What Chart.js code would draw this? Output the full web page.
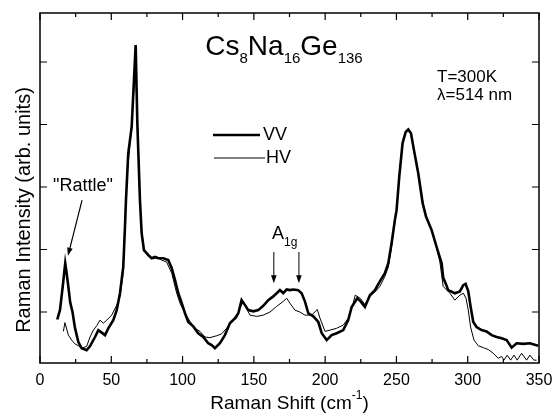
<!DOCTYPE html>
<html>
<head>
<meta charset="utf-8">
<script src="https://cdn.jsdelivr.net/npm/chart.js@4.4.1/dist/chart.umd.min.js"></script>
<style>
  html, body { margin: 0; padding: 0; background: #fff; }
</style>
</head>
<body>
<canvas id="ramanChart" width="553" height="415"></canvas>
<script>
// Raman shift (cm-1) / intensity (arb. units)
const vvPoints = [
  [12.1,-0.12],[14.0,0.03],[15.9,0.40],[17.7,0.78],[18.7,0.62],[19.9,0.40],[21.2,0.15],[22.8,0.0],
  [24.5,-0.25],[26.9,-0.48],[29.2,-0.58],[32.7,-0.61],[35.0,-0.55],[38.6,-0.40],[40.9,-0.29],[43.3,-0.33],
  [45.6,-0.37],[47.9,-0.26],[51.4,-0.13],[53.8,0.03],[56.1,0.30],[58.4,0.72],[59.5,1.30],[60.3,1.79],
  [61.9,2.54],[64.3,2.96],[67.1,4.27],[68.3,3.0],[70.1,1.79],[71.3,1.26],[72.9,0.99],[76.0,0.91],
  [78.3,0.86],[80.6,0.88],[83.0,0.86],[86.5,0.86],[90.0,0.83],[92.4,0.70],[94.7,0.51],[97.0,0.30],
  [99.4,0.14],[101.7,-0.02],[104.0,-0.16],[107.5,-0.23],[111.0,-0.34],[114.5,-0.40],[118.0,-0.50],
  [120.4,-0.53],[122.7,-0.58],[126.2,-0.50],[129.7,-0.37],[133.2,-0.18],[136.8,-0.10],[139.1,-0.02],
  [141.4,0.19],[143.8,0.11],[146.1,0.03],[149.6,0.01],[153.1,0.03],[156.6,0.10],[160.1,0.19],[163.6,0.25],
  [166.0,0.30],[168.3,0.35],[170.6,0.30],[173.0,0.36],[175.3,0.35],[177.7,0.36],[181.1,0.35],[183.5,0.30],
  [185.8,0.17],[188.2,-0.02],[191.7,-0.07],[195.2,-0.16],[197.6,-0.34],[201.1,-0.45],[204.6,-0.37],
  [208.1,-0.34],[212.7,-0.29],[216.2,-0.13],[218.6,0.08],[222.5,0.22],[224.9,0.17],[227.9,0.08],
  [231.4,0.27],[234.9,0.35],[238.4,0.49],[241.9,0.62],[244.3,0.78],[246.6,1.10],[248.9,1.47],[250.1,1.63],
  [252.0,2.17],[254.3,2.70],[256.5,2.88],[258.3,2.92],[260.2,2.86],[262.3,2.59],[265.3,2.22],[268.4,1.74],
  [270.7,1.53],[274.7,1.31],[278.2,1.04],[281.7,0.78],[282.8,0.55],[284.7,0.45],[286.3,0.35],[291.0,0.30],
  [294.5,0.33],[296.9,0.43],[298.5,0.45],[300.4,0.33],[302.0,0.09],[303.9,-0.16],[306.2,-0.24],
  [309.7,-0.29],[313.2,-0.31],[316.8,-0.37],[320.3,-0.40],[323.8,-0.42],[327.3,-0.45],[330.8,-0.57],
  [334.3,-0.50],[339.0,-0.51],[343.6,-0.50],[349.4,-0.54]
];

const hvPoints = [
  [16.4,-0.31],[17.5,-0.17],[19.9,-0.37],[22.2,-0.45],[24.5,-0.51],[26.9,-0.54],[29.2,-0.58],[32.7,-0.55],
  [35.1,-0.40],[37.4,-0.29],[39.8,-0.22],[42.1,-0.13],[44.4,-0.18],[46.8,-0.13],[50.3,-0.05],[53.8,0.11],
  [56.1,0.25],[58.0,0.56],[59.6,1.47],[61.5,2.30],[64.0,2.90],[66.9,3.95],[68.0,3.30],[70.0,1.85],
  [71.3,1.30],[73.0,1.0],[75.5,0.90],[77.1,0.88],[79.5,0.85],[81.8,0.88],[85.3,0.83],[88.8,0.80],
  [92.4,0.62],[95.9,0.30],[98.2,0.14],[101.7,-0.02],[105.2,-0.15],[108.7,-0.26],[112.2,-0.31],
  [115.7,-0.40],[119.2,-0.41],[123.9,-0.38],[127.4,-0.35],[130.9,-0.26],[134.4,-0.15],[137.9,-0.10],
  [140.0,0.05],[142.6,0.17],[145.0,0.05],[147.3,-0.05],[152.0,-0.07],[156.6,-0.05],[161.3,0.0],
  [166.0,0.09],[170.6,0.17],[173.0,0.22],[175.3,0.14],[178.8,0.03],[182.3,0.0],[185.8,-0.05],
  [190.5,-0.05],[194.5,0.04],[196.4,-0.10],[199.9,-0.31],[203.4,-0.29],[208.1,-0.26],[212.7,-0.21],
  [216.2,-0.10],[219.7,0.14],[221.1,0.27],[224.6,0.22],[227.9,0.12],[231.4,0.25],[234.9,0.32],
  [238.4,0.41],[241.9,0.57],[244.3,0.72],[246.6,1.05],[248.9,1.45],[250.1,1.63],[252.0,2.17],[254.3,2.70],
  [256.5,2.88],[258.3,2.92],[260.2,2.86],[262.3,2.59],[265.3,2.22],[268.4,1.78],[270.7,1.55],[274.7,1.30],
  [278.2,1.02],[280.5,0.80],[282.8,0.41],[287.5,0.30],[291.0,0.19],[294.5,0.27],[296.9,0.30],[298.8,0.22],
  [300.4,0.03],[302.0,-0.24],[304.4,-0.45],[307.4,-0.54],[310.9,-0.57],[314.4,-0.60],[317.9,-0.66],
  [321.4,-0.74],[323.8,-0.71],[325.4,-0.77],[327.7,-0.69],[330.1,-0.77],[332.4,-0.69],[334.7,-0.77],
  [337.8,-0.66],[341.3,-0.77],[343.6,-0.69],[346.4,-0.77],[348.3,-0.77]
];

const xTicks = [0, 50, 100, 150, 200, 250, 300, 350];
const xMinorTicks = [25, 75, 125, 175, 225, 275, 325];
const yTicks = [0, 1, 2, 3, 4];
const yMin = -0.816;
const yMax = 4.784;

const FONT = '"Liberation Sans", Arial, Helvetica, sans-serif';
const font = size => size + 'px ' + FONT;

// arrow helper, coordinates already in pixels
function arrow(ctx, x1, y1, x2, y2, head) {
  const a = Math.atan2(y2 - y1, x2 - x1);
  ctx.beginPath();
  ctx.moveTo(x1, y1);
  ctx.lineTo(x2 - Math.cos(a) * head * 0.8, y2 - Math.sin(a) * head * 0.8);
  ctx.stroke();
  ctx.beginPath();
  ctx.moveTo(x2, y2);
  ctx.lineTo(x2 - head * Math.cos(a) + head * 0.35 * Math.sin(a), y2 - head * Math.sin(a) - head * 0.35 * Math.cos(a));
  ctx.lineTo(x2 - head * Math.cos(a) - head * 0.35 * Math.sin(a), y2 - head * Math.sin(a) + head * 0.35 * Math.cos(a));
  ctx.closePath();
  ctx.fill();
}

// text with alternating normal / subscript pieces
function formula(ctx, parts, x, base, big, small, drop) {
  let cx = x;
  parts.forEach((p, i) => {
    const sub = i % 2 === 1;
    ctx.font = font(sub ? small : big);
    ctx.fillText(p, cx, sub ? base + drop : base);
    cx += ctx.measureText(p).width;
  });
  return cx;
}

const framePlugin = {
  id: 'frame',
  afterDraw(chart) {
    const { ctx, chartArea: a, scales: { x, y } } = chart;
    ctx.save();
    ctx.strokeStyle = '#000';
    ctx.fillStyle = '#000';

    // box
    ctx.lineWidth = 1.5;
    ctx.strokeRect(a.left, a.top, a.right - a.left, a.bottom - a.top);

    // inward ticks on all four sides
    ctx.lineWidth = 1.2;
    ctx.beginPath();
    xTicks.forEach(v => {
      const px = x.getPixelForValue(v);
      ctx.moveTo(px, a.bottom); ctx.lineTo(px, a.bottom - 7);
      ctx.moveTo(px, a.top); ctx.lineTo(px, a.top + 7);
    });
    xMinorTicks.forEach(v => {
      const px = x.getPixelForValue(v);
      ctx.moveTo(px, a.bottom); ctx.lineTo(px, a.bottom - 4);
      ctx.moveTo(px, a.top); ctx.lineTo(px, a.top + 4);
    });
    yTicks.forEach(v => {
      const py = y.getPixelForValue(v);
      ctx.moveTo(a.left, py); ctx.lineTo(a.left + 7, py);
      ctx.moveTo(a.right, py); ctx.lineTo(a.right - 7, py);
    });
    ctx.stroke();

    // axis titles
    ctx.textAlign = 'left';
    ctx.textBaseline = 'alphabetic';
    const xt1 = 'Raman Shift (cm';
    ctx.font = font(12);
    const supW = ctx.measureText('-1').width;
    ctx.font = font(19);
    const totalW = ctx.measureText(xt1).width + supW + ctx.measureText(')').width;
    let tx = (a.left + a.right) / 2 - totalW / 2;
    ctx.fillText(xt1, tx, 409);
    tx += ctx.measureText(xt1).width;
    ctx.font = font(12);
    ctx.fillText('-1', tx, 399);
    tx += supW;
    ctx.font = font(19);
    ctx.fillText(')', tx, 409);

    ctx.save();
    ctx.translate(30, 210);
    ctx.rotate(-Math.PI / 2);
    ctx.textAlign = 'center';
    ctx.font = font(20);
    ctx.fillText('Raman Intensity (arb. units)', 0, 0);
    ctx.restore();

    // compound name
    const parts = ['Cs', '8', 'Na', '16', 'Ge', '136'];
    let w = 0;
    parts.forEach((p, i) => { ctx.font = font(i % 2 ? 15 : 28); w += ctx.measureText(p).width; });
    formula(ctx, parts, 284 - w / 2, 55, 28, 15, 8);

    // conditions
    ctx.font = font(17);
    ctx.fillText('T=300K', 437, 82);
    ctx.fillText('\u03bb=514 nm', 437, 100);

    // legend
    ctx.lineWidth = 2.6;
    ctx.beginPath(); ctx.moveTo(213, 135); ctx.lineTo(260, 135); ctx.stroke();
    ctx.lineWidth = 1;
    ctx.beginPath(); ctx.moveTo(214, 158); ctx.lineTo(265, 158); ctx.stroke();
    ctx.font = font(18);
    ctx.textBaseline = 'middle';
    ctx.fillText('VV', 263, 135);
    ctx.fillText('HV', 266, 158);
    ctx.textBaseline = 'alphabetic';

    // "Rattle" note and arrow
    ctx.font = font(18);
    ctx.fillText('"Rattle"', 53, 191);
    ctx.lineWidth = 1.2;
    arrow(ctx, x.getPixelForValue(29.5), y.getPixelForValue(1.79),
               x.getPixelForValue(19.6), y.getPixelForValue(0.90), 8);

    // A1g mode with its two arrows
    formula(ctx, ['A', '1g'], 272, 239, 18, 12, 7);
    ctx.lineWidth = 1;
    [164.0, 181.6].forEach(v => {
      const px = x.getPixelForValue(v);
      arrow(ctx, px, y.getPixelForValue(0.96), px, y.getPixelForValue(0.46), 8);
    });

    ctx.restore();
  }
};

const ctx = document.getElementById('ramanChart').getContext('2d');
const ramanChart = new Chart(ctx, {
  type: 'line',
  data: {
    datasets: [{
      label: 'VV',
      data: vvPoints.map(p => ({ x: p[0], y: p[1] })),
      borderColor: '#000',
      borderWidth: 2.6,
      pointRadius: 0,
      tension: 0,
      fill: false
    }, {
      label: 'HV',
      data: hvPoints.map(p => ({ x: p[0], y: p[1] })),
      borderColor: '#000',
      borderWidth: 1,
      pointRadius: 0,
      tension: 0,
      fill: false
    }]
  },
  options: {
    responsive: false,
    animation: false,
    layout: { padding: { left: 0, right: 14, top: 13, bottom: 0 } },
    plugins: {
      legend: { display: false },
      tooltip: { enabled: false }
    },
    scales: {
      x: {
        type: 'linear',
        min: 0,
        max: 350,
        grid: { display: false, drawTicks: false },
        border: { display: false },
        afterBuildTicks: s => { s.ticks = xTicks.map(v => ({ value: v })); },
        ticks: {
          font: { family: FONT, size: 16 },
          color: '#000',
          padding: 8,
          maxRotation: 0,
          autoSkip: false
        },
        afterFit: s => { s.height = 52; s.paddingLeft = 0; s.paddingRight = 0; }
      },
      y: {
        type: 'linear',
        min: yMin,
        max: yMax,
        grid: { display: false, drawTicks: false },
        border: { display: false },
        ticks: { display: false },
        afterFit: s => { s.width = 40; }
      }
    }
  },
  plugins: [framePlugin]
});
</script>
</body>
</html>
